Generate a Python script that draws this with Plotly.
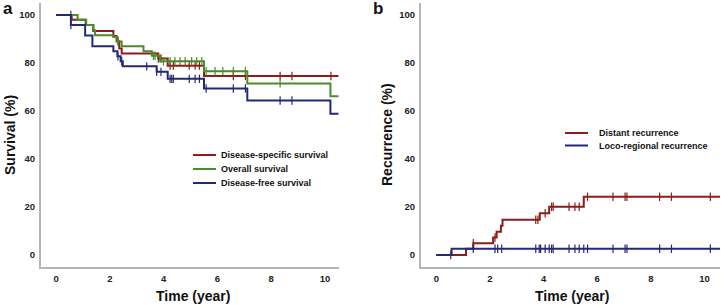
import plotly.graph_objects as go

# ---------------- data ----------------
# Panel a: Kaplan-Meier survival (%)
dss_t = [0, 0.58, 1.10, 1.38, 2.13, 2.25, 2.35, 2.44, 3.80, 4.15, 5.50]
dss_v = [100, 98.0, 95.8, 93.3, 91.2, 89.1, 86.0, 84.0, 81.9, 78.9, 74.6]
dss_c = [0.55, 2.30, 3.80, 3.90, 4.24, 4.36, 4.95, 5.17, 5.33, 6.59, 7.04, 8.33, 8.77, 10.22]

os_t = [0, 0.80, 1.12, 1.39, 1.45, 2.13, 2.28, 2.44, 3.25, 3.56, 3.87, 5.50, 7.11, 10.20]
os_v = [100, 98.0, 95.8, 93.6, 91.6, 90.8, 89.0, 87.0, 84.9, 83.0, 80.7, 76.6, 71.5, 66.1]
os_c = [2.30, 3.62, 3.68, 3.99, 4.24, 4.42, 4.61, 4.80, 5.04, 5.23, 5.42, 5.58, 5.91, 6.20, 6.59, 7.04, 8.33]

dfs_t = [0, 0.55, 1.08, 1.35, 2.13, 2.28, 2.40, 2.48, 3.74, 4.15, 5.50, 7.11, 10.20]
dfs_v = [100, 95.8, 91.5, 87.0, 84.9, 82.8, 80.7, 78.6, 76.3, 73.4, 69.4, 64.4, 58.9]
dfs_c = [0.55, 2.30, 2.44, 3.37, 3.74, 3.90, 4.24, 4.30, 4.36, 4.95, 5.17, 5.33, 5.58, 6.59, 7.04, 8.33, 8.77]
a_end = 10.5

# Panel b: cumulative recurrence (%)
dr_t = [0, 1.11, 1.38, 2.12, 2.25, 2.41, 2.47, 3.86, 4.21, 5.50]
dr_v = [0, 2.6, 4.9, 7.3, 9.7, 12.2, 14.7, 17.4, 20.1, 24.3]
dr_c = [0.54, 1.38, 2.19, 3.71, 3.79, 4.06, 4.30, 4.36, 4.95, 5.17, 5.33, 5.64, 6.59, 7.04, 7.11, 8.33, 8.77, 10.22]

lrr_t = [0, 0.57]
lrr_v = [0, 2.6]
lrr_c = [1.38, 2.19, 2.29, 2.44, 3.71, 3.84, 3.89, 4.06, 4.21, 4.30, 4.36, 4.95, 5.17, 5.33, 5.50,
         5.64, 6.59, 7.04, 7.11, 8.33, 8.77, 10.22]
b_end = 10.6

y_ticks = [0, 20, 40, 60, 80, 100]
x_ticks = [0, 2, 4, 6, 8, 10]

RED = "#8b1d1a"
GREEN = "#4a8c2c"
BLUE = "#222a78"


def step_value(ts, vs, t):
    v = vs[0]
    for ti, vi in zip(ts, vs):
        if ti <= t:
            v = vi
    return v


fig = go.Figure()


def add_curve(ts, vs, cens, end, color, xa, ya):
    fig.add_trace(go.Scatter(x=ts + [end], y=vs + [vs[-1]], mode="lines", line_shape="hv",
                             line=dict(color=color, width=2), xaxis=xa, yaxis=ya,
                             showlegend=False, hoverinfo="skip"))
    fig.add_trace(go.Scatter(x=cens, y=[step_value(ts, vs, c) for c in cens], mode="markers",
                             marker=dict(symbol="line-ns", size=6,
                                         line=dict(color=color, width=1.2)),
                             xaxis=xa, yaxis=ya, showlegend=False, hoverinfo="skip"))


add_curve(dss_t, dss_v, dss_c, a_end, RED, "x", "y")
add_curve(os_t, os_v, os_c, a_end, GREEN, "x", "y")
add_curve(dfs_t, dfs_v, dfs_c, a_end, BLUE, "x", "y")
add_curve(dr_t, dr_v, dr_c, b_end, RED, "x2", "y2")
add_curve(lrr_t, lrr_v, lrr_c, b_end, BLUE, "x2", "y2")

tickfont = dict(family="Liberation Sans, Arial", size=9.5, color="#222", weight="bold")
axis_common = dict(showgrid=False, zeroline=False, showline=True, linecolor="#b5b5b5",
                   linewidth=2, tickfont=tickfont, ticks="outside", ticklen=2,
                   tickcolor="rgba(0,0,0,0)")

ydom = [0.1246, 0.9902]
fig.update_layout(
    width=721, height=305, margin=dict(l=0, r=0, t=0, b=0),
    plot_bgcolor="white", paper_bgcolor="white",
    xaxis=dict(domain=[0.0569, 0.4702], range=[-0.56, 10.52], tickvals=x_ticks,
               anchor="y", **axis_common),
    yaxis=dict(domain=ydom, range=[-5, 105], tickvals=y_ticks, anchor="x", **axis_common),
    xaxis2=dict(domain=[0.5839, 0.9986], range=[-0.57, 10.58], tickvals=x_ticks,
                anchor="y2", **axis_common),
    yaxis2=dict(domain=ydom, range=[-5, 105], tickvals=y_ticks, anchor="x2", **axis_common),
)

title_font = dict(family="Liberation Sans, Arial", size=14, color="#111", weight="bold")
ann = [
    dict(text="a", x=8 / 721, y=1 - 9 / 305, font=dict(family="Liberation Sans, Arial", size=17, color="#111", weight="bold")),
    dict(text="b", x=378 / 721, y=1 - 9 / 305, font=dict(family="Liberation Sans, Arial", size=17, color="#111", weight="bold")),
    dict(text="Survival (%)", x=10 / 721, y=1 - 135 / 305, textangle=-90, font=title_font),
    dict(text="Recurrence (%)", x=387 / 721, y=1 - 135 / 305, textangle=-90, font=title_font),
    dict(text="Time (year)", x=193 / 721, y=1 - 296 / 305, font=title_font),
    dict(text="Time (year)", x=572 / 721, y=1 - 296 / 305, font=title_font),
]
for a in ann:
    fig.add_annotation(xref="paper", yref="paper", xanchor="center", yanchor="middle",
                       showarrow=False, **a)

# legends (manual)
legfont = dict(family="Liberation Sans, Arial", size=9, color="#111", weight="bold")
leg_a = [("Disease-specific survival", RED), ("Overall survival", GREEN), ("Disease-free survival", BLUE)]
for i, (name, col) in enumerate(leg_a):
    yy = 155 + 14 * i
    fig.add_shape(type="line", xref="paper", yref="paper", x0=193 / 721, x1=216 / 721,
                  y0=1 - yy / 305, y1=1 - yy / 305, line=dict(color=col, width=2))
    fig.add_annotation(xref="paper", yref="paper", x=219 / 721, y=1 - yy / 305, text=name,
                       xanchor="left", yanchor="middle", showarrow=False, font=legfont)
leg_b = [("Distant recurrence", RED), ("Loco-regional recurrence", BLUE)]
for i, (name, col) in enumerate(leg_b):
    yy = 133 + 12.5 * i
    fig.add_shape(type="line", xref="paper", yref="paper", x0=565 / 721, x1=588 / 721,
                  y0=1 - yy / 305, y1=1 - yy / 305, line=dict(color=col, width=2))
    fig.add_annotation(xref="paper", yref="paper", x=597 / 721, y=1 - yy / 305, text=name,
                       xanchor="left", yanchor="middle", showarrow=False, font=legfont)

fig.write_html("out.html", config={"displayModeBar": False},
               post_script="document.body.style.margin='0px';document.body.style.overflow='hidden';")
